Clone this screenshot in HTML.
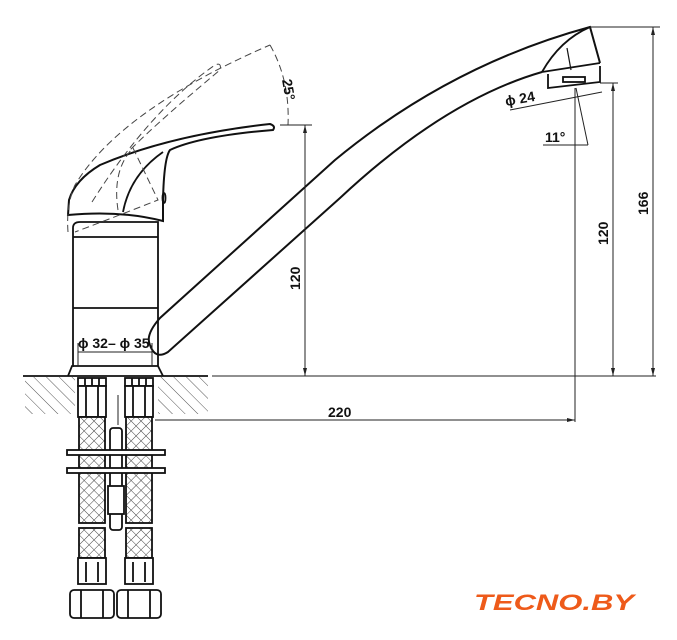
<!DOCTYPE html>
<html><head><meta charset="utf-8"><style>
body{margin:0;background:#fff}
svg{display:block}
text{font-family:"Liberation Sans",sans-serif;font-weight:bold;fill:#111}
</style></head><body>
<svg width="677" height="640" viewBox="0 0 677 640" xmlns="http://www.w3.org/2000/svg">
<defs>
<pattern id="hatch" width="9" height="9" patternUnits="userSpaceOnUse" patternTransform="rotate(-45)">
<line x1="0" y1="0" x2="0" y2="9" stroke="#555" stroke-width="1"/>
</pattern>
<pattern id="mesh" width="7" height="7" patternUnits="userSpaceOnUse" patternTransform="rotate(45)">
<rect width="7" height="7" fill="#fff"/>
<line x1="0" y1="0" x2="0" y2="7" stroke="#444" stroke-width="1"/>
<line x1="0" y1="0" x2="7" y2="0" stroke="#444" stroke-width="1"/>
</pattern>
</defs>
<g fill="none" stroke="#111" stroke-width="1.8">
<line x1="23" y1="376" x2="208" y2="376"/>
<rect x="25" y="377" width="50" height="37" fill="url(#hatch)" stroke="none"/>
<rect x="158" y="377" width="50" height="37" fill="url(#hatch)" stroke="none"/>
<path d="M68 376 L72 366 L73 366 L73 228 Q73 222 80 222 L158 222 L158 366 L163 376"/>
<line x1="73" y1="237" x2="158" y2="237"/>
<line x1="73" y1="308" x2="158" y2="308"/>
<line x1="73" y1="366" x2="158" y2="366"/>
<path d="M68 215 L69 200 Q75 180 100 165 Q170 135 270 124 Q276 126 273 130 Q200 136 170 150 Q164 158 163 200 L163 221 Q120 210 68 215 Z" stroke-width="2"/>
<path d="M123 212 Q130 175 163 152" stroke-width="1.8"/>
<ellipse cx="164" cy="198" rx="1.5" ry="5"/>
<g stroke-dasharray="7,4" stroke-width="1" stroke="#444">
<path d="M68 232 Q66 205 75 185 Q120 110 270 45"/>
<path d="M92 202 Q150 110 215 65 Q222 62 220 70 Q160 120 130 150"/>
<path d="M118 210 Q112 170 133 148 L158 200 Q120 215 75 232"/>
<path d="M270 45 Q290 80 288 125"/>
</g>
<path d="M150 345 Q145 335 160 318 L335 160 Q450 65 590 27 L600 63" stroke-width="2"/>
<path d="M150 345 Q155 360 168 352 L340 198 Q445 100 542 72" stroke-width="2"/>
<path d="M542 72 Q560 40 590 27"/>
<line x1="542" y1="72" x2="600" y2="63"/>
<path d="M548 74 L548 88 L600 82 L600 66"/>
<rect x="563" y="77" width="22" height="5"/>
<line x1="567" y1="48" x2="571" y2="70" stroke-width="1.2"/>
</g>
<g stroke="#111" stroke-width="1.8" fill="#fff">
<g id="hose">
<rect x="78" y="378" width="28" height="8" />
<rect x="78" y="386" width="28" height="31"/>
<line x1="86" y1="386" x2="86" y2="417"/><line x1="98" y1="386" x2="98" y2="417"/>
<line x1="85" y1="378" x2="85" y2="386"/><line x1="92" y1="378" x2="92" y2="386"/><line x1="99" y1="378" x2="99" y2="386"/>
<rect x="79" y="417" width="26" height="106" fill="url(#mesh)"/>
<rect x="79" y="528" width="26" height="30" fill="url(#mesh)"/>
<rect x="78" y="558" width="28" height="26"/>
<line x1="86" y1="562" x2="86" y2="582"/><line x1="98" y1="562" x2="98" y2="582"/>
<rect x="70" y="590" width="44" height="28" rx="4"/>
<line x1="81" y1="590" x2="81" y2="618"/><line x1="103" y1="590" x2="103" y2="618"/>
</g>
<use href="#hose" x="47"/>
<rect x="110" y="428" width="12" height="102" rx="3"/>
<rect x="108" y="486" width="16" height="28"/>
<rect x="67" y="450" width="98" height="5"/>
<rect x="67" y="468" width="98" height="5"/>
</g>
<g stroke="#222" stroke-width="1" fill="none">
<line x1="212" y1="376" x2="656" y2="376"/>
<line x1="280" y1="125" x2="312" y2="125"/>
<line x1="305" y1="125" x2="305" y2="376"/>
<line x1="590" y1="27" x2="660" y2="27"/>
<line x1="653" y1="27" x2="653" y2="376"/>
<line x1="600" y1="83" x2="618" y2="83"/>
<line x1="613" y1="83" x2="613" y2="376"/>
<line x1="575" y1="88" x2="575" y2="422"/>
<line x1="588" y1="145" x2="576" y2="88"/>
<line x1="543" y1="145" x2="588" y2="145"/>
<line x1="155" y1="420" x2="575" y2="420"/>
<line x1="118" y1="395" x2="118" y2="425"/>
<line x1="510" y1="110" x2="602" y2="92"/>
<line x1="78" y1="343" x2="78" y2="366"/>
<line x1="152" y1="343" x2="152" y2="366"/>
<line x1="78" y1="352" x2="152" y2="352"/>
</g>
<g fill="#222">
<path d="M305 125 l-2 8 h4z"/><path d="M305 376 l-2 -8 h4z"/>
<path d="M653 27 l-2 8 h4z"/><path d="M653 376 l-2 -8 h4z"/>
<path d="M613 83 l-2 8 h4z"/><path d="M613 376 l-2 -8 h4z"/>
<path d="M575 420 l-8 -2 v4z"/>
</g>
<text x="0" y="0" font-size="14" transform="translate(300,290) rotate(-90)">120</text>
<text x="0" y="0" font-size="14" transform="translate(648,215) rotate(-90)">166</text>
<text x="0" y="0" font-size="14" transform="translate(608,245) rotate(-90)">120</text>
<text x="0" y="0" font-size="14" transform="translate(282,80) rotate(80)" font-weight="normal" font-family="Liberation Serif">25°</text>
<text x="328" y="417" font-size="14">220</text>
<text x="506" y="106" font-size="14" transform="rotate(-10 506 106)">ϕ 24</text>
<text x="545" y="142" font-size="14" font-weight="normal" font-family="Liberation Serif">11°</text>
<text x="78" y="348" font-size="14">ϕ 32– ϕ 35</text>
<text x="474" y="610" font-size="22" font-style="italic" font-weight="900" textLength="160" lengthAdjust="spacingAndGlyphs" style="fill:#ee5a1a">TECNO.BY</text>
</svg>
</body></html>
